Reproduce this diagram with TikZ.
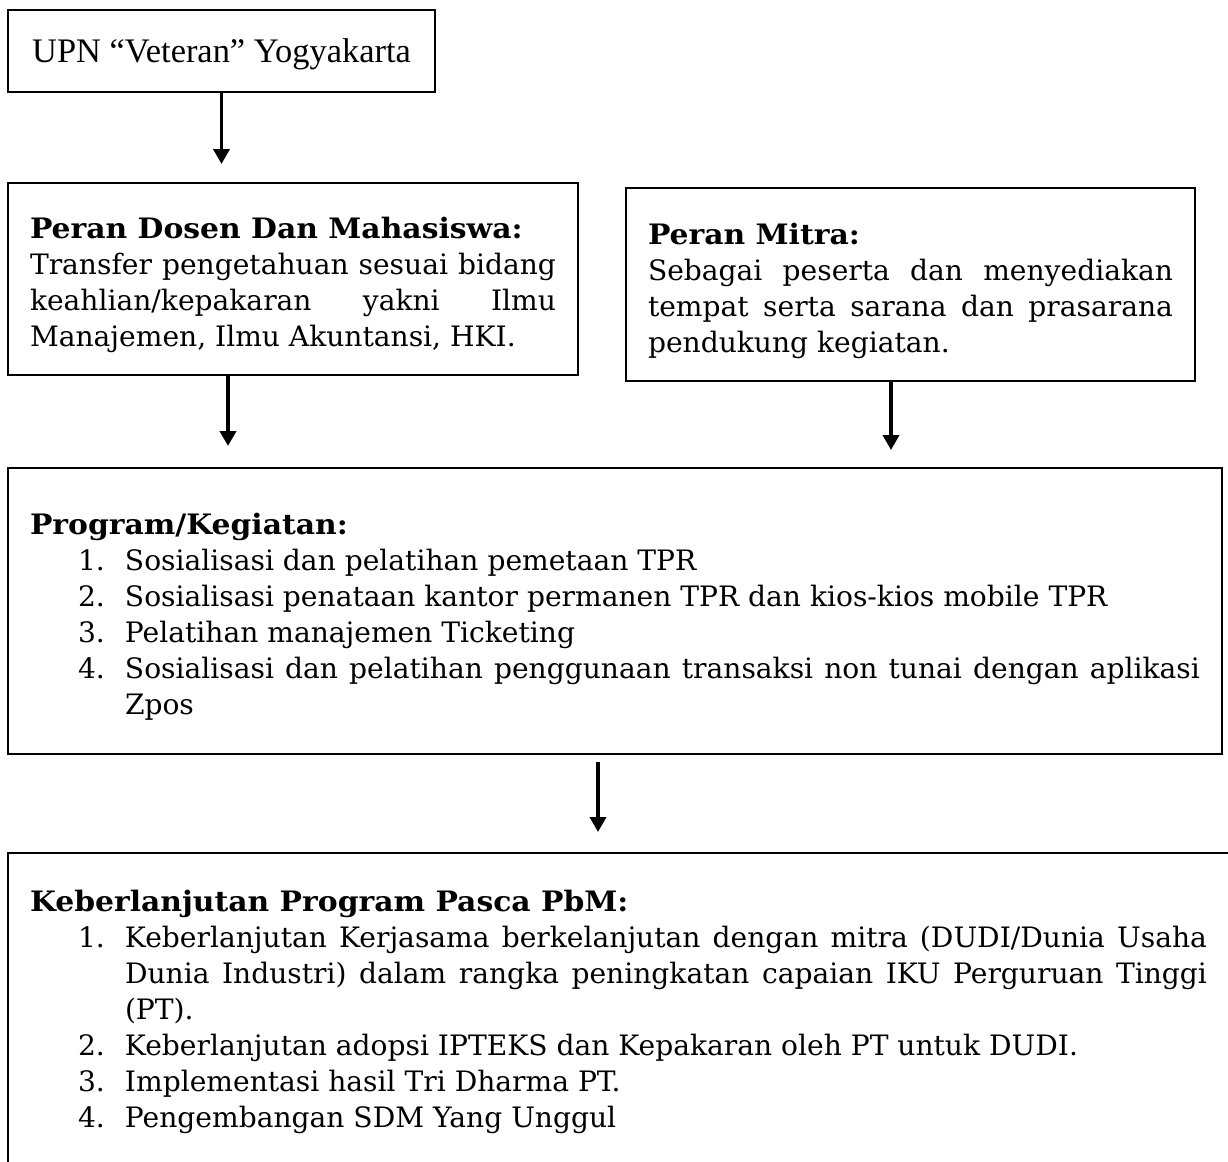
\documentclass[tikz,border=0pt]{standalone}
\usepackage{fontspec}
\setmainfont{DejaVu Serif}
\newfontfamily\headfont[FakeStretch=1.06]{DejaVu Serif}
\newfontfamily\timesfont{Liberation Serif}
\usetikzlibrary{positioning, arrows.meta}

\setlength{\parindent}{0pt}
\hbadness=10000
\newcommand{\boxhead}[1]{{\headfont\bfseries #1}}
\newcommand{\listitem}[1]{\par\noindent\hangindent=35.625pt\hangafter=1\hspace*{18pt}\makebox[17.625pt][l]{#1}\ignorespaces}

\begin{document}
\begin{tikzpicture}[
    >={Triangle[width=6pt, length=5.6pt]},
    box/.style={draw, line width=0.8pt, rectangle, anchor=north west, outer sep=0pt,
        inner xsep=8.25pt, inner ysep=0pt, align=justify,
        font=\fontsize{10.55pt}{13.5pt}\selectfont},
    flow/.style={->, line width=1.3pt}
]

    % Page frame
    \useasboundingbox (-3pt,3.75pt) rectangle (457.5pt,-432pt);
    \clip (-3pt,3.75pt) rectangle (457.5pt,-432pt);

    % Top Level
    \node[box, align=center, inner xsep=0pt, minimum width=160.125pt, minimum height=30.75pt, text depth=0pt,
          font=\timesfont\fontsize{12.9pt}{15pt}\selectfont] (UPN) at (0,0) {UPN “Veteran” Yogyakarta};

    % Second Level
    \node[box, below=34.125pt of UPN.south west, anchor=north west,
          text width=197.25pt, minimum height=72pt] (DOSEN)
          {\rule{0pt}{12.5pt}\boxhead{Peran Dosen Dan Mahasiswa:}\par
           Transfer pengetahuan sesuai bidang\linebreak keahlian/kepakaran yakni Ilmu\linebreak Manajemen, Ilmu Akuntansi, HKI.\par};
    \node[box, right=18pt of DOSEN.north east, anchor=north west, yshift=-1.875pt,
          text width=196.875pt, minimum height=72.375pt] (MITRA)
          {\rule{0pt}{12.5pt}\boxhead{Peran Mitra:}\par
           Sebagai peserta dan menyediakan\linebreak tempat serta sarana dan prasarana\linebreak pendukung kegiatan.\par};

    % Third Level
    \node[box, below=34.875pt of DOSEN.south west, anchor=north west,
          text width=438.75pt, minimum height=107.25pt] (PROGRAM)
          {\rule{0pt}{12.5pt}\boxhead{Program/Kegiatan:}
           \listitem{1.}Sosialisasi dan pelatihan pemetaan TPR
           \listitem{2.}Sosialisasi penataan kantor permanen TPR dan kios-kios mobile TPR
           \listitem{3.}Pelatihan manajemen Ticketing
           \listitem{4.}Sosialisasi dan pelatihan penggunaan transaksi non tunai dengan aplikasi\linebreak Zpos\par};

    % Bottom Level
    \node[box, below=37.125pt of PROGRAM.south west, anchor=north west,
          text width=441.375pt, minimum height=119.25pt] (LANJUT)
          {\boxhead{Keberlanjutan Program Pasca PbM:}
           \listitem{1.}Keberlanjutan Kerjasama berkelanjutan dengan mitra (DUDI/Dunia Usaha\linebreak Dunia Industri) dalam rangka peningkatan capaian IKU Perguruan Tinggi\linebreak (PT).
           \listitem{2.}Keberlanjutan adopsi IPTEKS dan Kepakaran oleh PT untuk DUDI.
           \listitem{3.}Implementasi hasil Tri Dharma PT.
           \listitem{4.}Pengembangan SDM Yang Unggul\par};

    % Arrow positions
    \coordinate (dosenout) at ([xshift=82.5pt]DOSEN.south west);
    \coordinate (mitraout) at ([xshift=99.375pt]MITRA.south west);
    \coordinate (programout) at ([xshift=221.25pt]PROGRAM.south west);

    % Edges
    \draw[flow, shorten >=7.125pt] (UPN.south) -- (UPN.south |- DOSEN.north);
    \draw[flow, shorten >=8.25pt] (dosenout) -- (dosenout |- PROGRAM.north);
    \draw[flow, shorten >=6.75pt] (mitraout) -- (mitraout |- PROGRAM.north);
    \draw[flow, shorten <=3pt, shorten >=7.875pt] (programout) -- (programout |- LANJUT.north);

\end{tikzpicture}
\end{document}
